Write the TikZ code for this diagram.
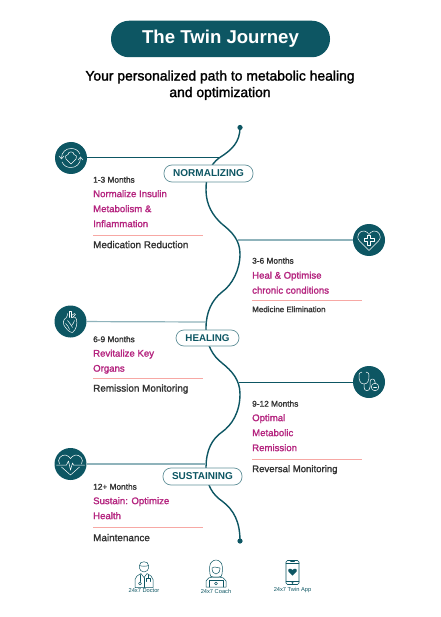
\documentclass[tikz,border=0pt]{standalone}
\usepackage{fontspec}
\setmainfont{Liberation Sans}
\newfontfamily\medf[FakeBold=1.6]{Liberation Sans}
\newcommand{\fs}[1]{\fontsize{#1}{#1}\selectfont}
\definecolor{teal}{HTML}{0D5663}
\definecolor{lteal}{HTML}{8FB3BB}
\definecolor{mag}{HTML}{B5247F}
\definecolor{pinkrule}{HTML}{F7A8A4}
\definecolor{ink}{HTML}{333333}
\tikzset{
  x=1pt,y=-1pt,
  circ/.style={circle,fill=teal,minimum size=32pt,inner sep=0pt},
  pillbox/.style={draw=teal!65!white,line width=0.7pt,fill=white,rounded corners=8pt,inner sep=0pt,text=teal,font=\bfseries\fs{10}},
  months/.style={anchor=mid west,inner sep=0pt,text=ink,font=\medf\fs{8.3}},
  head/.style={anchor=mid west,inner sep=0pt,text=mag,font=\medf\fs{9.6}},
  subl/.style={anchor=mid west,inner sep=0pt,text=ink,font=\medf\fs{9.9}},
  ruleline/.style={pinkrule,line width=0.8pt},
  wire/.style={teal,line width=1pt},
  wirel/.style={lteal,line width=1.2pt},
  spine/.style={teal,line width=1.4pt},
  icn/.style={white,line width=0.5pt,line join=round,line cap=round},
  bot/.style={teal,line width=0.5pt,line join=round,line cap=round},
  botl/.style={inner sep=0pt,text=teal,font=\fs{5.7}}
}
\begin{document}
\begin{tikzpicture}
\useasboundingbox (0,0) rectangle (440,617);
\fill[white] (0,0) rectangle (440,617);
% title
\node[fill=teal,rounded corners=18pt,minimum width=219pt,minimum height=36.5pt,inner sep=0pt,text=white,font=\bfseries\fs{18.6}] (title) at (220.5,39) {\raisebox{-1.5pt}{The Twin Journey}};
\node[inner sep=0pt,text=black,font=\medf\fs{13.9},align=center] (sub1) at (220,77) {Your personalized path to metabolic healing};
\node[inner sep=0pt,text=black,font=\medf\fs{13.9},align=center] (sub2) at (220,93.5) {and optimization};
% spine
\coordinate (top) at (240,127.5);
\coordinate (bottom) at (240,541);
\coordinate (j1) at (219,158);
\coordinate (j2) at (238,240);
\coordinate (j3) at (206,322);
\coordinate (j4) at (239,382);
\coordinate (j5) at (206,464);
\draw[spine] (top) .. controls (240,142) and (232,150) .. (j1)
  .. controls (210,165) and (206,175) .. (206,190)
  .. controls (206,205) and (213,216) .. (222,224)
  .. controls (232,232) and (240,240) .. (240,254)
  .. controls (240,270) and (232,285) .. (222,292)
  .. controls (212,300) and (206,312) .. (206,328)
  .. controls (206,345) and (213,356) .. (222,363)
  .. controls (232,371) and (240,380) .. (240,394)
  .. controls (240,412) and (232,425) .. (222,432)
  .. controls (212,439) and (206,450) .. (206,468)
  .. controls (206,485) and (213,495) .. (222,501)
  .. controls (234,510) and (240,522) .. (bottom);
\fill[teal] (top) circle (2.6pt);
\fill[teal] (bottom) circle (2.6pt);
% hubs
\node[circ] (c1) at (71,158) {};
\node[circ] (c2) at (369,240) {};
\node[circ] (c3) at (70.5,321.5) {};
\node[circ] (c4) at (369,382) {};
\node[circ] (c5) at (70.5,464) {};
\draw[wire] (c1) -- (j1);
\draw[wirel] (c2) -- (j2);
\draw[wirel] (c3) -- (j3);
\draw[wire] (c4) -- (j4);
\draw[wirel] (c5) -- (j5);
% pills
\node[pillbox,minimum width=89pt,minimum height=17pt] (p1) at (208.5,173.5) {\raisebox{-0.8pt}{NORMALIZING}};
\node[pillbox,minimum width=63pt,minimum height=16pt,font=\bfseries\fs{9.8}] (p2) at (207.5,338) {HEALING};
\node[pillbox,minimum width=79pt,minimum height=17pt] (p3) at (202.5,476.5) {\raisebox{-0.8pt}{SUSTAINING}};
% text 1
\node[months] (t1a) at (93,180) {1-3 Months};
\node[head] (t1b) at (93,194.5) {Normalize Insulin};
\node[head] (t1c) at (93,209.5) {Metabolism \&};
\node[head] (t1d) at (93,224.5) {Inflammation};
\coordinate (r1a) at (93,235); \coordinate (r1b) at (203,235);
\draw[ruleline] (r1a) -- (r1b);
\node[subl] (t1e) at (93,245.5) {Medication Reduction};
% text 2
\node[months] (t2a) at (252,261) {3-6 Months};
\node[head] (t2b) at (252,276) {Heal \& Optimise};
\node[head] (t2c) at (252,291) {chronic conditions};
\coordinate (r2a) at (252,300); \coordinate (r2b) at (362,300);
\draw[ruleline] (r2a) -- (r2b);
\node[subl,font=\medf\fs{8}] (t2e) at (252,309.5) {Medicine Elimination};
% text 3
\node[months] (t3a) at (93,339.5) {6-9 Months};
\node[head] (t3b) at (93,354) {Revitalize Key};
\node[head] (t3c) at (93,369) {Organs};
\coordinate (r3a) at (93,378); \coordinate (r3b) at (203,378);
\draw[ruleline] (r3a) -- (r3b);
\node[subl] (t3e) at (93,389) {Remission Monitoring};
% text 4
\node[months] (t4a) at (252,404) {9-12 Months};
\node[head] (t4b) at (252,418.5) {Optimal};
\node[head] (t4c) at (252,433.5) {Metabolic};
\node[head] (t4d) at (252,448.5) {Remission};
\coordinate (r4a) at (252,459); \coordinate (r4b) at (362,459);
\draw[ruleline] (r4a) -- (r4b);
\node[subl,font=\medf\fs{9.6}] (t4e) at (252,469.5) {Reversal Monitoring};
% text 5
\node[months] (t5a) at (93,487) {12+ Months};
\node[head] (t5b) at (93,501.5) {Sustain: Optimize};
\node[head] (t5c) at (93,516.5) {Health};
\coordinate (r5a) at (93,527); \coordinate (r5b) at (203,527);
\draw[ruleline] (r5a) -- (r5b);
\node[subl] (t5e) at (93,538.5) {Maintenance};
% icon 1: heart in cycle arrows
\begin{scope}[shift={(c1.center)}]
  \draw[icn] (0,6) -- (-5,1) .. controls (-7,-1) and (-5,-3.5) .. (-3,-3.5) .. controls (-3,-7) and (3,-7) .. (3,-3.5) .. controls (5,-3.5) and (7,-1) .. (5,1) -- cycle;
  \draw[icn] (-9.5,0) .. controls (-9.5,-6) and (-5,-9.5) .. (0,-9.5) .. controls (4,-9.5) and (7,-8) .. (9,-4);
  \draw[icn] (9.5,0) .. controls (9.5,6) and (5,9.5) .. (0,9.5) .. controls (-4,9.5) and (-7,8) .. (-9,4);
  \draw[icn] (-12,-2) -- (-9.5,1) -- (-7,-2);
  \draw[icn] (12,2) -- (9.5,-1) -- (7,2);
\end{scope}
% icon 2: heart with plus
\begin{scope}[shift={(c2.center)}]
  \draw[icn] (0,10.5) -- (-9.5,1) .. controls (-14,-4) and (-9,-10) .. (-4.5,-9) .. controls (-2.5,-8.5) and (-1,-7) .. (0,-5.5) .. controls (1,-7) and (2.5,-8.5) .. (4.5,-9) .. controls (9,-10) and (14,-4) .. (9.5,1) -- cycle;
  \draw[icn] (-1.7,-5) -- (1.7,-5) -- (1.7,-1.7) -- (5,-1.7) -- (5,1.7) -- (1.7,1.7) -- (1.7,5) -- (-1.7,5) -- (-1.7,1.7) -- (-5,1.7) -- (-5,-1.7) -- (-1.7,-1.7) -- cycle;
\end{scope}
% icon 3: anatomical heart
\begin{scope}[shift={(c3.center)}]
  \draw[icn] (-4,-4) .. controls (-8,-2) and (-8,3) .. (-5,6) .. controls (-3,9) and (0,11) .. (2,11) .. controls (6,8) and (7,2) .. (6,-2) .. controls (5,-5) and (3,-5) .. (1,-4);
  \draw[icn] (-4,-4) .. controls (-3,-6) and (-3,-7) .. (-3,-8);
  \draw[icn] (-1,-4) -- (-1,-10) -- (1,-10) -- (1,-4);
  \draw[icn] (1,-6) -- (4,-8) -- (5,-7) -- (2,-4);
  \draw[icn] (-3,-1) .. controls (-1,2) and (1,3) .. (2,6);
  \draw[icn] (4,-1) .. controls (3,2) and (2,3) .. (1,4);
  \draw[icn] (-5,2) .. controls (-3,4) and (-2,5) .. (-1,8);
\end{scope}
% icon 4: stethoscope
\begin{scope}[shift={(c4.center)}]
  \draw[icn] (-7,-10) .. controls (-10,-10) and (-10,-8) .. (-10,-6) .. controls (-10,-2) and (-9,2) .. (-5,2) .. controls (-1,2) and (0,-2) .. (0,-6) .. controls (0,-8) and (0,-10) .. (-3,-10);
  \draw[icn] (-5,2) -- (-5,5) .. controls (-5,10) and (1,10) .. (1,5) -- (1,0) .. controls (1,-4) and (6,-4) .. (6,0) -- (6,1);
  \draw[icn] (6,5) circle (3.8pt);
  \draw[icn] (4.5,5) -- (7.5,5);
\end{scope}
% icon 5: heart with ECG
\begin{scope}[shift={(c5.center)}]
  \draw[icn] (-11,0) .. controls (-14,-5) and (-9,-9.5) .. (-5,-9) .. controls (-2.5,-8.5) and (-1,-7) .. (0,-5.5) .. controls (1,-7) and (2.5,-8.5) .. (5,-9) .. controls (9,-9.5) and (14,-5) .. (11,0);
  \draw[icn] (-9,3) -- (0,11) -- (9,3);
  \draw[icn] (-14,1) -- (-4,1) -- (-2,-3) -- (0,6) -- (2,-1) -- (3,1) -- (14,1);
\end{scope}
% bottom icons
\node[botl] (b1) at (144,591) {24x7 Doctor};
\node[botl] (b2) at (216,591) {24x7 Coach};
\node[botl] (b3) at (292.5,590) {24x7 Twin App};
\begin{scope}[shift={(144,574.5)}]
  \draw[bot] (-4.5,-9) .. controls (-5,-14) and (5,-14) .. (4.5,-9) .. controls (5,-4) and (2,-2.5) .. (0,-2.5) .. controls (-2,-2.5) and (-5,-4) .. (-4.5,-9) -- cycle;
  \draw[bot] (-4.5,-9) .. controls (-2,-8) and (2,-8) .. (4.5,-9);
  \draw[bot] (-9,13) -- (-9,5) .. controls (-9,2) and (-6,1) .. (-3,-1) -- (0,3) -- (3,-1) .. controls (6,1) and (9,2) .. (9,5) -- (9,13) -- cycle;
  \draw[bot] (0,3) -- (0,13);
  \draw[bot] (-4,0) -- (-4,7); \draw[bot] (-4,9) circle (1.5pt);
  \draw[bot] (4,0) -- (4,4) (2,7) -- (2,4) -- (6,4) -- (6,7);
\end{scope}
\begin{scope}[shift={(216,574)}]
  \draw[bot] (-6,0) .. controls (-8,-12) and (-3,-14) .. (0,-14) .. controls (3,-14) and (8,-12) .. (6,0) .. controls (7,2) and (4,3) .. (3,3) -- (-3,3) .. controls (-4,3) and (-7,2) .. (-6,0) -- cycle;
  \draw[bot] (-4,-6) .. controls (-4,-2) and (-2,0) .. (0,0) .. controls (2,0) and (4,-2) .. (4,-6) .. controls (2,-6) and (-2,-8) .. (-4,-6) -- cycle;
  \draw[bot] (-10,13) -- (-10,7) .. controls (-9,4) and (-6,3) .. (-3,3) -- (3,3) .. controls (6,3) and (9,4) .. (10,7) -- (10,13) -- cycle;
  \draw[bot] (-7,13) -- (-7,6) -- (7,6) -- (7,13);
  \draw[bot] (0,9.5) circle (1.5pt);
\end{scope}
\begin{scope}[shift={(292.5,572.5)}]
  \draw[bot,rounded corners=1.5pt,line width=0.6pt] (-6.5,-12) rectangle (6.5,12);
  \draw[bot] (-6.5,-9.5) -- (6.5,-9.5) (-6.5,8.5) -- (6.5,8.5) (-2,-10.8) -- (2,-10.8);
  \draw[bot] (0,10.3) circle (0.8pt);
  \fill[teal] (0,3) -- (-4,-1) .. controls (-5.5,-3.5) and (-2,-5) .. (0,-2.5) .. controls (2,-5) and (5.5,-3.5) .. (4,-1) -- cycle;
\end{scope}
\end{tikzpicture}
\end{document}
